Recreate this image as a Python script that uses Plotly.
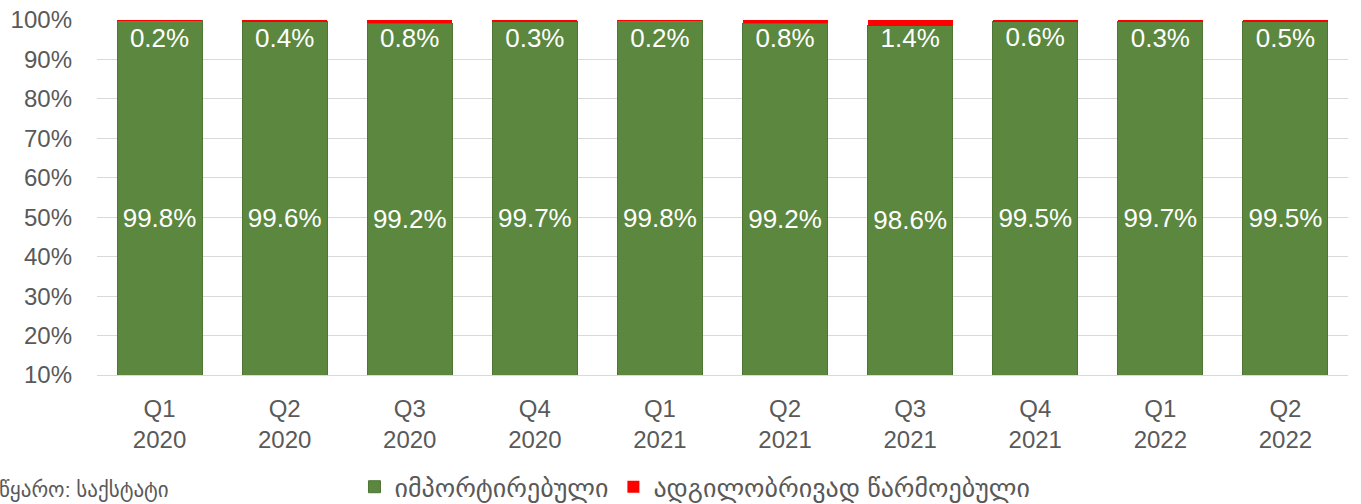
import plotly.graph_objects as go

quarters = ["Q1<br>2020", "Q2<br>2020", "Q3<br>2020", "Q4<br>2020", "Q1<br>2021",
            "Q2<br>2021", "Q3<br>2021", "Q4<br>2021", "Q1<br>2022", "Q2<br>2022"]
imported = [99.8, 99.6, 99.2, 99.7, 99.8, 99.2, 98.6, 99.5, 99.7, 99.5]
local = [0.2, 0.4, 0.8, 0.3, 0.2, 0.8, 1.4, 0.6, 0.3, 0.5]

font = "Liberation Sans, Arial, DejaVu Sans, sans-serif"
grey = "#595959"

fig = go.Figure()
fig.add_trace(go.Bar(
    x=quarters, y=imported, name="იმპორტირებული",
    marker=dict(color="#5B873E", line=dict(color="#4E7534", width=1)),
    text=[f"{v}%" for v in imported], textposition="inside",
    insidetextanchor="middle", textangle=0,
    textfont=dict(color="white", size=26, family=font),
))
fig.add_trace(go.Bar(
    x=quarters, y=local, name="ადგილობრივად წარმოებული",
    marker=dict(color="#FF0000", line=dict(width=0)),
))
# labels for the thin red segments, hung just under the top of each stack
fig.add_trace(go.Scatter(
    x=quarters, y=[i + l for i, l in zip(imported, local)], mode="markers+text",
    marker=dict(size=10, opacity=0),
    text=[f"{v}%" for v in local], textposition="bottom center",
    textfont=dict(color="white", size=26, family=font),
    showlegend=False, hoverinfo="skip",
))

fig.update_layout(
    barmode="stack", bargap=0.32,
    width=1361, height=504,
    margin=dict(l=97, r=13, t=20, b=129, autoexpand=False),
    plot_bgcolor="white", paper_bgcolor="white",
    font=dict(family=font, color=grey, size=24),
    legend=dict(orientation="h", x=0.478, xanchor="center", y=-0.315, yanchor="middle",
                font=dict(size=26, color=grey), itemwidth=30, traceorder="normal"),
    annotations=[dict(
        text="წყარო: საქსტატი", xref="paper", yref="paper",
        x=-0.08, y=-0.325, xanchor="left", yanchor="middle", showarrow=False,
        font=dict(size=21, color=grey),
    )],
)
fig.update_yaxes(range=[10, 100], dtick=10, ticksuffix="%", showgrid=True,
                 gridcolor="#D9D9D9", gridwidth=1, zeroline=False,
                 tickfont=dict(size=24, color=grey), ticks="", ticklen=0,
                 ticklabelstandoff=24)
fig.update_xaxes(range=[-0.5, len(quarters) - 0.5], showline=True,
                 linecolor="#D9D9D9", linewidth=1,
                 tickfont=dict(size=24, color=grey), ticklabelstandoff=12)

fig.write_html("out.html", config={"displayModeBar": False},
               post_script="document.body.style.margin='0';")
